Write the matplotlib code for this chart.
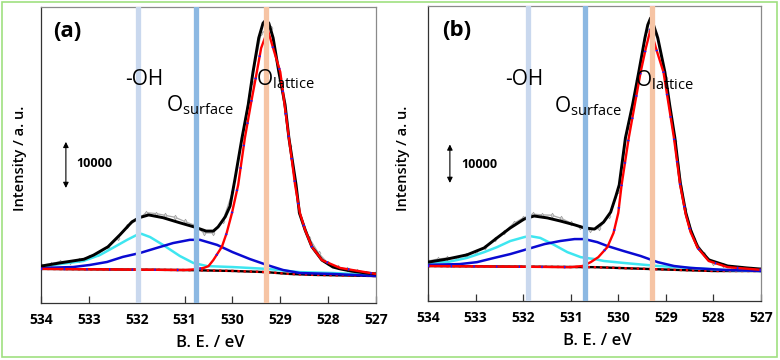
import matplotlib
matplotlib.use("Agg")
import matplotlib.pyplot as plt
from matplotlib.patches import Rectangle

plt.rcParams['font.family'] = ['Open Sans', 'DejaVu Sans']

# ---------------- panel (a) ----------------
a_raw_e = [534.0, 533.8, 533.6, 533.4, 533.2, 533.0, 532.8, 532.6, 532.4, 532.2,
           532.0, 531.8, 531.6, 531.4, 531.2, 531.0, 530.8, 530.6, 530.4, 530.2,
           530.0, 529.8, 529.6, 529.4, 529.2, 529.0, 528.8, 528.6, 528.4, 528.2,
           528.0, 527.8, 527.6, 527.4, 527.2, 527.0]
a_raw = [8200, 8500, 9000, 9000, 9300, 10000, 10700, 12200, 14000, 16600,
         18000, 19600, 19400, 19000, 18600, 17700, 16900, 15200, 15200, 17800,
         24000, 35800, 48000, 58500, 59700, 48800, 34000, 19800, 14200, 10800,
         8600, 7700, 7400, 7000, 6600, 6400]

a_env_e = [534.0, 533.6, 533.1, 532.9, 532.6, 532.35, 532.1, 531.95, 531.75, 531.45,
           531.1, 530.8, 530.55, 530.4, 530.3, 530.15, 530.05, 529.95, 529.8, 529.67,
           529.57, 529.45, 529.36, 529.3, 529.24, 529.15, 529.03, 528.9, 528.82, 528.67,
           528.6, 528.48, 528.34, 528.13, 527.9, 527.75, 527.5, 527.2, 527.0]
a_env = [8000, 8700, 9500, 10400, 12200, 14800, 17600, 18500, 19100, 18500,
         17400, 16500, 15600, 15600, 16500, 18700, 21000, 26700, 35800, 43000,
         50100, 57500, 60700, 61400, 60700, 57500, 50100, 43000, 35800, 25600,
         19500, 15800, 12200, 9300, 7800, 7400, 6900, 6500, 6300]

a_lat_e = [534.0, 531.0, 530.8, 530.6, 530.5, 530.4, 530.22, 530.12, 530.01, 529.88,
           529.74, 529.6, 529.49, 529.4, 529.26, 529.15, 529.0, 528.82, 528.69, 528.59,
           528.48, 528.34, 528.13, 527.75, 527.0]
a_lat = [7400, 7150, 7300, 7600, 8000, 9300, 12200, 15200, 19500, 25600,
         35800, 44000, 50100, 55300, 59200, 55300, 50100, 35800, 25600, 19500,
         15800, 12200, 9300, 7600, 6300]

a_oh_e = [534.0, 533.6, 533.12, 532.77, 532.5, 532.2, 532.0, 531.9, 531.72, 531.45,
          531.1, 530.82, 530.53, 530.0, 529.28, 528.6, 527.9, 527.0]
a_oh = [7800, 8450, 9100, 10400, 11950, 13700, 14750, 15000, 14300, 12600,
        10200, 8700, 8000, 7800, 7400, 6700, 6500, 6100]

a_sur_e = [534.0, 533.33, 532.98, 532.62, 532.29, 531.93, 531.58, 531.24, 530.89, 530.68,
           530.32, 530.0, 529.64, 529.28, 528.94, 528.59, 527.9, 527.0]
a_sur = [7600, 7800, 8250, 8900, 10000, 10850, 11950, 13000, 13700, 13700,
         12600, 11050, 9550, 8250, 7150, 6500, 6300, 5850]

a_base_e = [534.0, 531.0, 530.0, 529.3, 528.8, 528.3, 527.0]
a_base = [7400, 7150, 6950, 6700, 6300, 6100, 5850]

a_peaks = [531.98, 530.76, 529.3]   # -OH, O surface, O lattice

# ---------------- panel (b) ----------------
b_raw_e = a_raw_e
b_raw = [10400, 10900, 11200, 11300, 12000, 12800, 14000, 16000, 17900, 20200,
         21600, 22600, 22400, 22300, 21500, 20300, 19200, 18400, 18900, 22000,
         28500, 45300, 57500, 70500, 69500, 58000, 41500, 24000, 16000, 12300,
         10000, 9300, 8800, 8600, 8200, 8300]

b_env_e = [534.0, 533.6, 533.18, 532.82, 532.55, 532.27, 531.98, 531.77, 531.49, 531.22,
           530.92, 530.71, 530.5, 530.31, 530.16, 530.05, 529.98, 529.85, 529.7, 529.57,
           529.44, 529.38, 529.32, 529.26, 529.17, 529.02, 528.92, 528.81, 528.7, 528.58,
           528.48, 528.33, 528.1, 527.7, 527.3, 527.0]
b_env = [10100, 10900, 12000, 13800, 16400, 19000, 21300, 22100, 21600, 20800,
         19800, 19000, 18700, 20500, 23100, 27300, 30200, 42400, 51000, 59500,
         68400, 71800, 73600, 71800, 68400, 59500, 51000, 42400, 30900, 22900,
         18500, 14000, 10700, 9100, 8600, 8300]

b_lat_e = [534.0, 531.0, 530.75, 530.58, 530.42, 530.23, 530.1, 530.0, 529.93, 529.78,
           529.53, 529.42, 529.32, 529.21, 529.05, 528.83, 528.7, 528.58, 528.48, 528.33,
           528.1, 527.7, 527.0]
b_lat = [9100, 8800, 9100, 10100, 11400, 14000, 17700, 22900, 30200, 42400,
         59500, 65800, 70700, 65800, 59500, 42400, 30200, 22400, 17900, 13800,
         10400, 8800, 8100]

b_oh_e = [534.0, 533.6, 533.18, 532.82, 532.55, 532.27, 531.98, 531.87, 531.64, 531.35,
          531.07, 530.79, 530.5, 530.3, 529.89, 529.17, 528.48, 527.8, 527.0]
b_oh = [9900, 10100, 11200, 12700, 14000, 15600, 16600, 16900, 16400, 14600,
        12700, 11400, 10900, 10400, 9900, 9100, 8600, 8100, 7800]

b_sur_e = [534.0, 533.33, 532.97, 532.61, 532.27, 531.91, 531.55, 531.22, 530.92, 530.71,
           530.44, 530.23, 529.89, 529.53, 529.17, 528.83, 528.48, 527.8, 527.0]
b_sur = [9400, 9600, 10100, 11200, 12200, 13500, 14800, 15600, 16100, 16100,
         15300, 14300, 13000, 11700, 10100, 9100, 8600, 8100, 7800]

b_base_e = [534.0, 530.5, 529.3, 528.8, 528.0, 527.0]
b_base = [9100, 8800, 8300, 8100, 7800, 7800]

b_peaks = [531.89, 530.69, 529.29]

xticks = [534, 533, 532, 531, 530, 529, 528, 527]
band_colors = ['#c9d8ee', '#8cb8e2', '#f6c4a4']
scale_bar = 10000


def draw_panel(ax, raw_e, raw, env_e, env, lat_e, lat, oh_e, oh, sur_e, sur,
               base_e, base, peaks, ymax, label, txt, bar):
    ax.set_xlim(534, 527)
    ax.set_ylim(0, ymax)

    # raw data sits under the fitted envelope, only peeks out at the noise
    ax.plot(raw_e, raw, color='#a8a8a8', lw=0.9, marker='d', ms=2.4,
            mfc='#d8d8d8', mec='#a0a0a0', mew=0.5, zorder=2)

    # baseline: black dashes under red dots
    ax.plot(base_e, base, color='k', lw=1.7, zorder=3)
    ax.plot(base_e, base, color='#ee0000', lw=1.7, ls=(0, (1, 1.6)), zorder=3)

    ax.plot(oh_e, oh, color='#3ee6f0', lw=1.8, zorder=3)
    ax.plot(sur_e, sur, color='#0a0ad2', lw=1.8, zorder=3)
    ax.plot(env_e, env, color='k', lw=2.1, zorder=4, solid_joinstyle='round')
    ax.plot(lat_e, lat, color='#ff0000', lw=1.7, zorder=5, solid_joinstyle='round')
    ax.plot(lat_e, lat, color='#1a1aff', lw=1.7, ls=(0, (0.6, 9)), zorder=5)

    # peak position bands on top of the curves
    for p, c in zip(peaks, band_colors):
        ax.axvline(p, ymin=0.01, ymax=0.995, color=c, lw=3.8, zorder=7)

    for s, e, y in txt:
        ax.text(e, y, s, fontsize=15, ha='left', va='baseline', zorder=8)

    ax.text(bar[2], bar[3], label, fontsize=16, fontweight='bold',
            ha='left', va='center')
    ax.annotate('', xy=(bar[0], bar[1] + scale_bar), xytext=(bar[0], bar[1]),
                arrowprops=dict(arrowstyle='<|-|>', color='k', lw=0.8,
                                mutation_scale=8, shrinkA=0, shrinkB=0))
    ax.text(bar[4], bar[5], str(scale_bar), fontsize=9, fontweight='bold',
            ha='left', va='center')

    ax.set_xticks(xticks)
    ax.set_xticklabels([str(t) for t in xticks], fontsize=10, fontweight='bold')
    ax.set_yticks([])
    ax.tick_params(axis='x', direction='in', length=5, width=0.9,
                   color='#333333', pad=7)
    for s in ['left', 'bottom']:
        ax.spines[s].set_color('#333333')
        ax.spines[s].set_linewidth(0.9)
    for s in ['top', 'right']:
        ax.spines[s].set_color('#8a8a8a')
        ax.spines[s].set_linewidth(0.9)


fig = plt.figure(figsize=(7.8, 3.6), dpi=100)
axa = fig.add_axes([41 / 780, 1 - 303 / 360, 335 / 780, 296 / 360])
axb = fig.add_axes([428 / 780, 1 - 301 / 360, 333 / 780, 295 / 360])

draw_panel(axa, a_raw_e, a_raw, a_env_e, a_env, a_lat_e, a_lat, a_oh_e, a_oh,
           a_sur_e, a_sur, a_base_e, a_base, a_peaks, 64200, '(a)',
           [('-OH', 532.24, 47300),
            (r'$\mathregular{O_{surface}}$', 531.39, 41450),
            (r'$\mathregular{O_{lattice}}$', 529.51, 47100)],
           (533.48, 24950, 533.75, 58800, 533.27, 30200))
draw_panel(axb, b_raw_e, b_raw, b_env_e, b_env, b_lat_e, b_lat, b_oh_e, b_oh,
           b_sur_e, b_sur, b_base_e, b_base, b_peaks, 76700, '(b)',
           [('-OH', 532.38, 56200),
            (r'$\mathregular{O_{surface}}$', 531.36, 49100),
            (r'$\mathregular{O_{lattice}}$', 529.64, 55900)],
           (533.54, 30700, 533.7, 70300, 533.3, 35600))

for x, y in [(20, 158), (403, 158)]:
    fig.text(x / 780, 1 - y / 360, 'Intensity / a. u.', rotation=90,
             fontsize=10.5, fontweight='semibold', ha='center', va='center')
for x, y in [(210, 343), (597, 341)]:
    fig.text(x / 780, 1 - y / 360, 'B. E. / eV', fontsize=12,
             fontweight='semibold', ha='center', va='center')

# light green frame around the whole figure
fig.patches.append(Rectangle((2 / 780, 3 / 360), 775 / 780, 355 / 360,
                             transform=fig.transFigure, fill=False,
                             edgecolor='#9fe080', lw=1.2))

fig.savefig('out.png', dpi=100)
